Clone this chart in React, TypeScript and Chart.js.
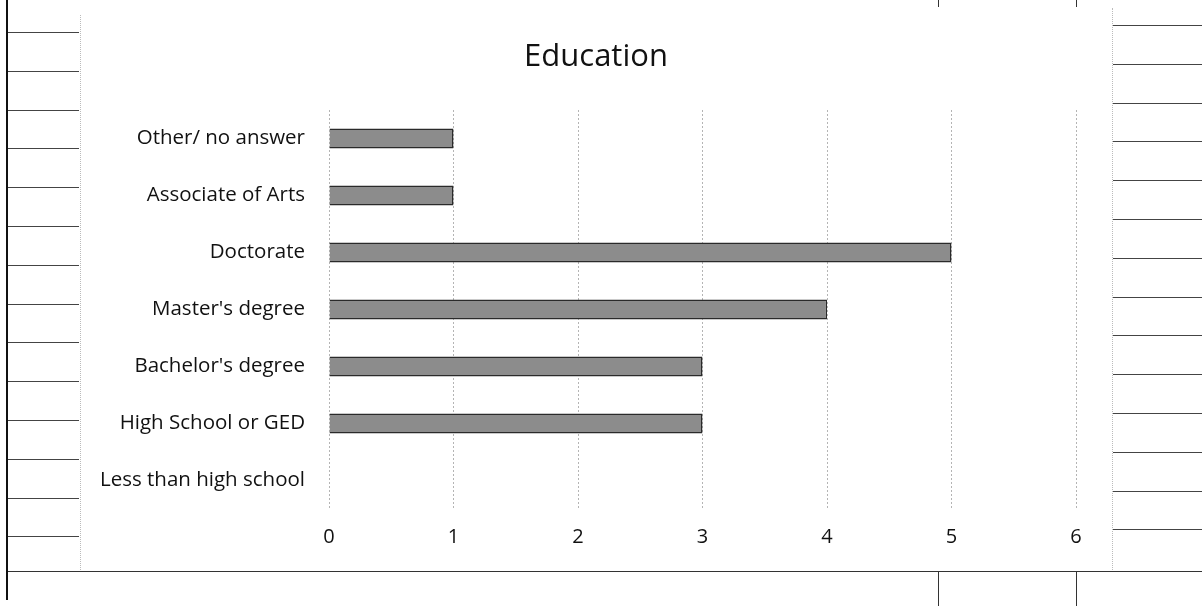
import React, { useEffect, useRef } from "react";
import { Chart, registerables } from "chart.js";

Chart.register(...registerables);

const title = "Education";
const categories = [
  "Other/ no answer",
  "Associate of Arts",
  "Doctorate",
  "Master's degree",
  "Bachelor's degree",
  "High School or GED",
  "Less than high school",
];
const counts = [1, 1, 5, 4, 3, 3, 0];
const xTicks = [0, 1, 2, 3, 4, 5, 6];

const FONT = "'Open Sans', Lato, sans-serif";

const centerTitle = {
  id: "centerTitle",
  afterDraw(chart: any) {
    const ctx = chart.ctx;
    ctx.save();
    ctx.font = `normal 31px ${FONT}`;
    ctx.fillStyle = "#111";
    ctx.textAlign = "center";
    ctx.textBaseline = "alphabetic";
    ctx.fillText(title, chart.width / 2, 51);
    ctx.restore();
  },
};

export default function App() {
  const ref = useRef<HTMLCanvasElement | null>(null);

  useEffect(() => {
    if (!ref.current) return;
    const chart = new Chart(ref.current, {
      type: "bar",
      data: {
        labels: categories,
        datasets: [
          {
            data: counts,
            backgroundColor: "#8c8c8c",
            borderColor: "#2a2a2a",
            borderWidth: 1.5,
            categoryPercentage: 1,
            barPercentage: 0.35,
          },
        ],
      },
      plugins: [centerTitle],
      options: {
        indexAxis: "y",
        animation: false,
        responsive: false,
        maintainAspectRatio: false,
        layout: { padding: { left: 0, right: 36, top: 95, bottom: 0 } },
        plugins: {
          legend: { display: false },
          tooltip: { enabled: false },
          title: { display: false },
        },
        scales: {
          x: {
            min: 0,
            max: 6,
            afterBuildTicks: (s: any) => {
              s.ticks = xTicks.map((v) => ({ value: v }));
            },
            afterFit: (s: any) => {
              s.height = 61;
            },
            grid: {
              display: true,
              color: "#b4b4b4",
              lineWidth: 1,
              drawTicks: true,
              tickLength: 13,
              tickColor: "rgba(0,0,0,0)",
            },
            border: { display: false, dash: [2, 2] },
            ticks: {
              color: "#111",
              padding: 3,
              font: { family: FONT, size: 20 },
            },
          },
          y: {
            afterFit: (s: any) => {
              s.width = 249;
            },
            grid: { display: false, drawTicks: false },
            border: { display: false },
            ticks: {
              color: "#111",
              padding: 24,
              font: { family: FONT, size: 20.5 },
            },
          },
        },
      },
    });
    return () => chart.destroy();
  }, []);

  const leftLines = Array.from({ length: 14 }, (_, k) => 32 + k * 38.8);
  const rightLines = Array.from({ length: 14 }, (_, k) => 25 + k * 38.8);

  return (
    <div style={{ position: "fixed", left: 0, top: 0, width: 1202, height: 606, background: "#fff", overflow: "hidden" }}>
      {/* scanned sheet decorations */}
      <div style={{ position: "absolute", left: 6, top: 0, width: 2, height: 600, background: "#111" }} />
      {leftLines.map((y, i) => (
        <div key={"l" + i} style={{ position: "absolute", left: 8, top: y, width: 71, height: 1, background: "#444" }} />
      ))}
      {rightLines.map((y, i) => (
        <div key={"r" + i} style={{ position: "absolute", left: 1113, top: y, width: 89, height: 1, background: "#444" }} />
      ))}
      <div style={{ position: "absolute", left: 8, top: 571, width: 1194, height: 1, background: "#333" }} />
      <div style={{ position: "absolute", left: 938, top: 571, width: 1, height: 35, background: "#333" }} />
      <div style={{ position: "absolute", left: 1076, top: 571, width: 1, height: 35, background: "#333" }} />
      <div style={{ position: "absolute", left: 938, top: 0, width: 1, height: 7, background: "#333" }} />
      <div style={{ position: "absolute", left: 1076, top: 0, width: 1, height: 7, background: "#333" }} />
      <div style={{ position: "absolute", left: 80, top: 15, width: 0, height: 555, borderLeft: "1px dotted #bbb" }} />
      <div style={{ position: "absolute", left: 1112, top: 8, width: 0, height: 562, borderLeft: "1px dotted #bbb" }} />
      <canvas
        ref={ref}
        width={1032}
        height={555}
        style={{ position: "absolute", left: 80, top: 15, width: 1032, height: 555 }}
      />
    </div>
  );
}
